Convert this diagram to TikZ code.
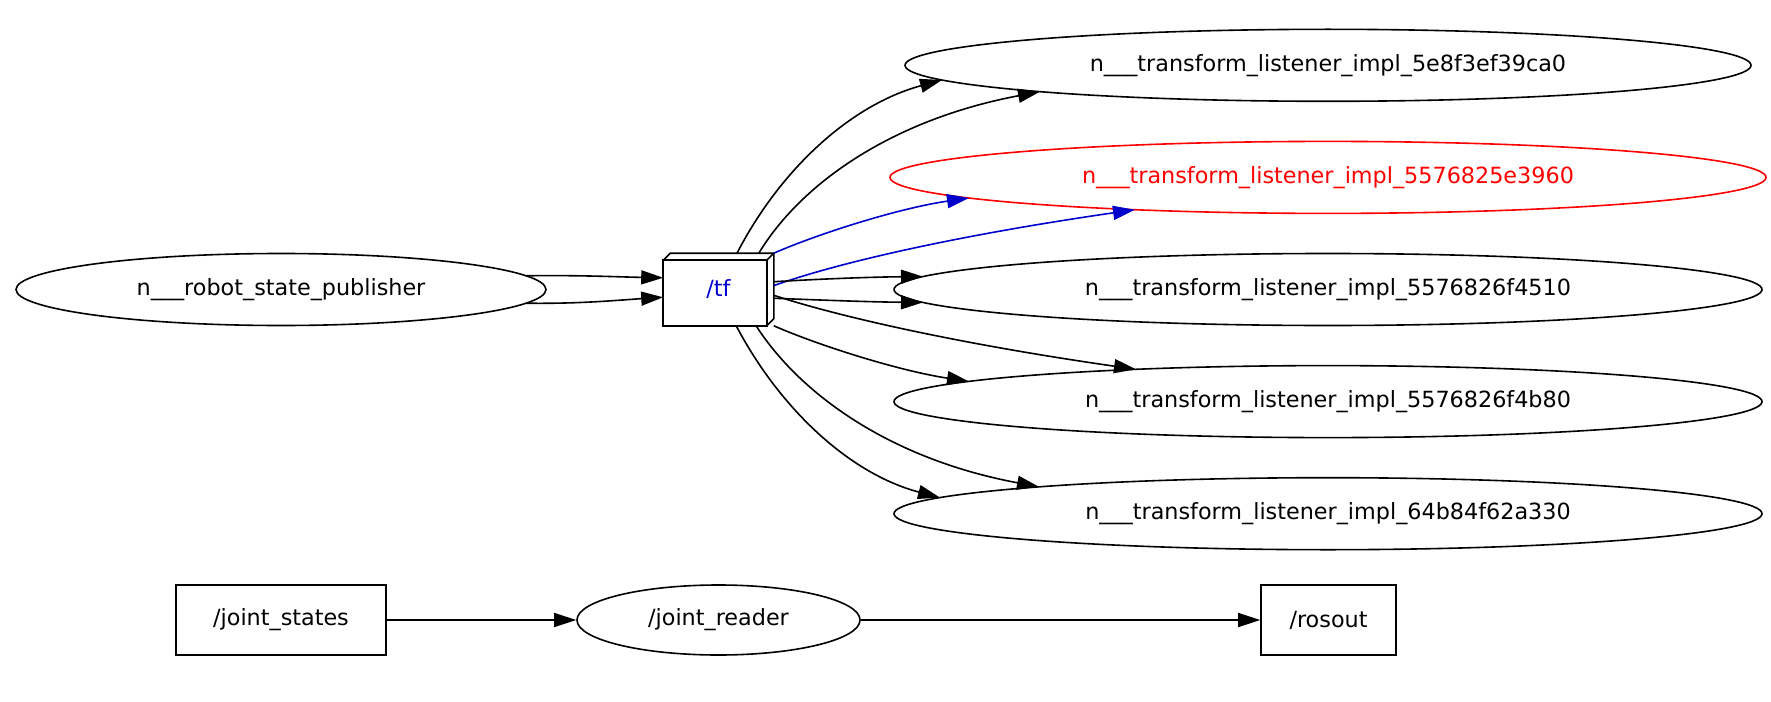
\documentclass[tikz,border=0pt]{standalone}
\usepackage{fontspec}
\setmainfont{DejaVu Sans}
\usepackage{tikz}
\usetikzlibrary{arrows.meta, positioning, shapes.geometric}
\definecolor{SelRed}{HTML}{FF0000}
\definecolor{SelBlue}{HTML}{0000CC}

\begin{document}
\begin{tikzpicture}[x=0.5pt, y=-0.5pt, >={Triangle[length=11pt, width=7pt]}, node distance=19.25pt, line width=0.8pt]
        \tikzstyle{rnode} = [ellipse, draw, minimum height=36pt, inner sep=0pt, font=\fontsize{11.15pt}{13pt}\selectfont]
        \tikzstyle{topic} = [rectangle, draw, minimum height=35pt, inner sep=0pt, font=\fontsize{11.15pt}{13pt}\selectfont]
        \tikzstyle{tfbox} = [rectangle, minimum width=54.5pt, minimum height=35.5pt, inner sep=0pt, text=SelBlue, font=\fontsize{11.15pt}{13pt}\selectfont]
        \useasboundingbox (0,0) rectangle (1771,701);

        % Publisher and tf topic
        \node[rnode, minimum width=265pt] (rsp) at (281,289.5) {n\_\_\_robot\_state\_publisher};
        \node[tfbox] (tf) at (718.5,289.5) {/tf};
        \draw ([yshift=-3.5pt]tf.north west) rectangle ([xshift=-3.5pt]tf.south east);
        \draw ([yshift=-3.5pt]tf.north west) -- ([xshift=3.5pt]tf.north west) -- (tf.north east) -- ([yshift=3.5pt]tf.south east) -- ([xshift=-3.5pt]tf.south east);
        \draw ([shift={(-3.5pt,-3.5pt)}]tf.north east) -- (tf.north east);

        % Listener column
        \node[rnode, minimum width=434pt] (l3) at (1328,289.5) {n\_\_\_transform\_listener\_impl\_5576826f4510};
        \node[rnode, minimum width=438pt, draw=SelRed, text=SelRed, above=of l3] (l2) {n\_\_\_transform\_listener\_impl\_5576825e3960};
        \node[rnode, minimum width=423pt, above=of l2] (l1) {n\_\_\_transform\_listener\_impl\_5e8f3ef39ca0};
        \node[rnode, minimum width=434pt, below=of l3] (l4) {n\_\_\_transform\_listener\_impl\_5576826f4b80};
        \node[rnode, minimum width=434pt, below=of l4] (l5) {n\_\_\_transform\_listener\_impl\_64b84f62a330};

        % Bottom row
        \node[topic, minimum width=105pt] (states) at (281,620) {/joint\_states};
        \node[rnode, minimum width=141.5pt, minimum height=35pt] (reader) at (718.5,620) {/joint\_reader};
        \node[topic, minimum width=67.5pt] (rosout) at (1328.5,620) {/rosout};

        % Arrows (end points on the ellipses, offsets from the centres)
        \draw[->] ([shift={(245,-13.7)}]rsp.center) .. controls (580,275) and (620,277) .. (tf.168.1);
        \draw[->] ([shift={(245,13.7)}]rsp.center) .. controls (580,304) and (620,300) .. (tf.188.9);
        \draw[->] (tf.63.1) .. controls (780,170) and (850,105) .. ([shift={(-386,14.7)}]l1.center);
        \draw[->] (tf.42.7) .. controls (800,185) and (890,120) .. ([shift={(-288,26.4)}]l1.center);
        \draw[->, SelBlue] (tf.north east) .. controls (820,233) and (900,208) .. ([shift={(-359,20.6)}]l2.center);
        \draw[->, SelBlue] (tf.4.7) .. controls (840,262) and (960,235) .. ([shift={(-193,32.3)}]l2.center);
        \draw[->] (tf.8.9) .. controls (820,279) and (870,277) .. ([shift={(-405,-12.9)}]l3.center);
        \draw[->] (tf.351.1) .. controls (820,300) and (870,302) .. ([shift={(-405,12.9)}]l3.center);
        \draw[->] (tf.354.2) .. controls (840,317) and (960,344) .. ([shift={(-192,-32.3)}]l4.center);
        \draw[->] (tf.south east) .. controls (820,346) and (900,371) .. ([shift={(-359,-20.2)}]l4.center);
        \draw[->] (tf.316.5) .. controls (800,394) and (890,459) .. ([shift={(-289,-26.9)}]l5.center);
        \draw[->] (tf.296.3) .. controls (780,409) and (850,474) .. ([shift={(-388,-16.1)}]l5.center);
        \draw[->] (states) -- (reader);
        \draw[->] (reader) -- (rosout);
    \end{tikzpicture}
\end{document}
